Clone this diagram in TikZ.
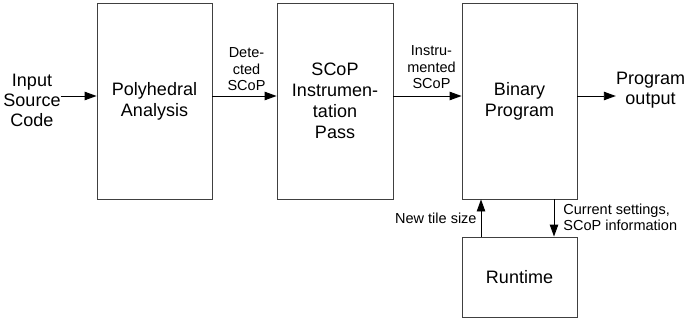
\documentclass[tikz,border=0pt]{standalone}
\usepackage{fontspec}
\setmainfont{Liberation Sans}
\usetikzlibrary{arrows.meta}
\begin{document}
\begin{tikzpicture}[x=1pt,y=-1pt,
  blk/.style={draw=black!75,line width=0.9pt,minimum width=115pt,align=center,inner sep=0pt,
    font=\fontsize{18}{21}\selectfont},
  big/.style={align=center,inner sep=0pt,font=\fontsize{18}{20}\selectfont},
  small/.style={inner sep=0pt,font=\fontsize{14.5}{16.3}\selectfont},
  arr/.style={line width=0.9pt,-{Triangle[length=12pt,width=8.5pt]}}]
\useasboundingbox (0,0) rectangle (684,320);
\node[blk,minimum height=196pt] (p1) at (154.5,101) {Polyhedral\\Analysis};
\node[blk,minimum height=196pt,minimum width=116pt] (p2) at (335,101) {SCoP\\Instrumen-\\tation\\Pass};
\node[blk,minimum height=196pt] (b) at (519.5,101) {Binary\\Program};
\node[blk,minimum height=80pt] (rt) at (519.5,277) {Runtime};
\node[big] (in) at (32,100) {Input\\Source\\Code};
\node[big] (out) at (650.5,90) {Program\\output};
\draw[arr] ([yshift=5pt]p1.west -| in.east) -- ([yshift=5pt]p1.west);
\draw[arr] ([yshift=5pt]p1.east) -- node[small,align=center,above=5pt,xshift=2pt] {Dete-\\cted\\SCoP} ([yshift=5pt]p2.west);
\draw[arr] ([yshift=5pt]p2.east) -- node[small,align=center,above=7pt,xshift=4pt] {Instru-\\mented\\SCoP} ([yshift=5pt]p2.west -| b.west);
\draw[arr] ([yshift=5pt]b.east) -- ([yshift=5pt]b.east -| out.west);
\draw[arr] ([xshift=-38.5pt]rt.north) -- node[small,left=4pt] {New tile size} ([xshift=-38.5pt]b.south);
\draw[arr] ([xshift=34.5pt]b.south) -- node[small,align=left,right=9pt,yshift=1pt] {Current settings,\\SCoP information} ([xshift=34.5pt]rt.north);
\end{tikzpicture}
\end{document}
